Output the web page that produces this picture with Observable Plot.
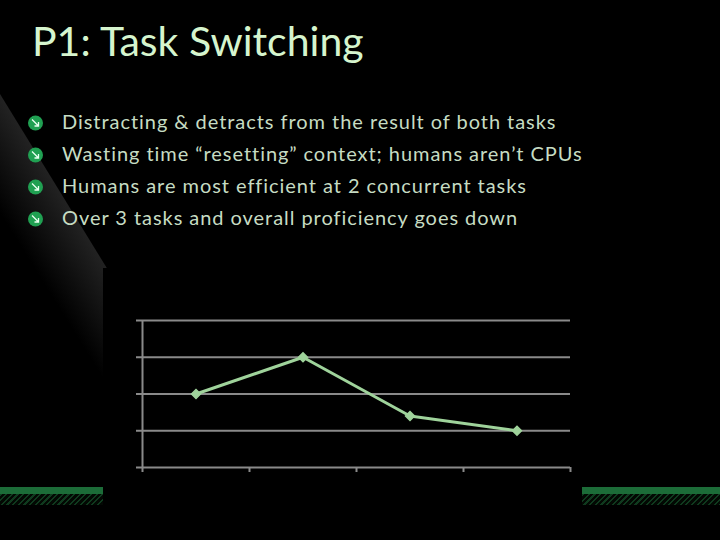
<!DOCTYPE html>
<html>
<head>
<meta charset="utf-8">
<script src="https://cdn.jsdelivr.net/npm/d3@7"></script>
<script src="https://cdn.jsdelivr.net/npm/@observablehq/plot@0.6"></script>
<style>
  html, body { margin: 0; padding: 0; background: #000; }
  #slide { position: relative; width: 720px; height: 540px; overflow: hidden; background: #000; font-family: Lato, "Open Sans", sans-serif; }
  #deco { position: absolute; left: 0; top: 0; }
  #title { position: absolute; left: 32px; top: 17px; font-size: 41px; line-height: 48px; color: #d6f5ce; white-space: nowrap; }
  .bullet { position: absolute; left: 62px; font-size: 20px; letter-spacing: 0.95px; line-height: 32px; color: #c6dcc3; white-space: nowrap; }
  #stripe { position: absolute; left: 0; top: 487px; width: 720px; height: 7px; background: #1c6c38; }
  #hatch { position: absolute; left: 0; top: 494px; width: 720px; height: 11px;
    background: repeating-linear-gradient(135deg, #0f3a1e 0px, #0f3a1e 1.5px, #030803 1.5px, #030803 4px); }
  #chart { position: absolute; left: 103px; top: 268px; }
</style>
</head>
<body>
<div id="slide"></div>
<script>
// ---- data ----
const titleText = "P1: Task Switching";
const bullets = [
  "Distracting & detracts from the result of both tasks",
  "Wasting time \u201cresetting\u201d context; humans aren\u2019t CPUs",
  "Humans are most efficient at 2 concurrent tasks",
  "Over 3 tasks and overall proficiency goes down"
];
const categories = ["1", "2", "3", "4"];
const values = [40, 60, 28, 20];
const yTicks = [0, 20, 40, 60, 80];
const xBoundaries = [0, 1, 2, 3, 4];

const slide = document.getElementById("slide");

// ---- decorative background (sheen, bullet icons) ----
const deco = d3.select(slide).append("svg").attr("id", "deco").attr("width", 720).attr("height", 540);
const defs = deco.append("defs");
const g = defs.append("linearGradient").attr("id", "sheen").attr("gradientUnits", "userSpaceOnUse")
  .attr("x1", 53).attr("y1", 180).attr("x2", 0).attr("y2", 213);
g.append("stop").attr("offset", 0).attr("stop-color", "#222222");
g.append("stop").attr("offset", 1).attr("stop-color", "#000");
deco.append("polygon").attr("points", "0,94 108,270 108,520 0,520").attr("fill", "url(#sheen)");

// stripe
d3.select(slide).append("div").attr("id", "stripe");
d3.select(slide).append("div").attr("id", "hatch");

const deco2 = d3.select(slide).append("svg").attr("width", 720).attr("height", 540)
  .style("position", "absolute").style("left", 0).style("top", 0);
bullets.forEach((b, i) => {
  const cy = 123 + 32 * i, cx = 35.5;
  deco2.append("circle").attr("cx", cx).attr("cy", cy).attr("r", 7.5).attr("fill", "#20a052");
  deco2.append("path")
    .attr("d", `M${cx - 3.5},${cy - 3.5} L${cx + 2.5},${cy + 2.5} M${cx + 3},${cy - 1} L${cx + 3},${cy + 3} L${cx - 1},${cy + 3}`)
    .attr("stroke", "#e8fff0").attr("stroke-width", 1.3).attr("fill", "none");
});

// ---- text ----
d3.select(slide).append("div").attr("id", "title").text(titleText);
bullets.forEach((b, i) => {
  d3.select(slide).append("div").attr("class", "bullet").style("top", (105 + 32 * i) + "px").text(b);
});

// ---- chart ----
const data = categories.map((c, i) => ({cat: c, idx: i + 0.5, value: values[i]}));
const grid = "#8a8a8a";
const chart = Plot.plot({
  width: 479,
  height: 237,
  marginLeft: 39,
  marginRight: 12,
  marginTop: 52,
  marginBottom: 38,
  style: {background: "#000", overflow: "visible"},
  x: {domain: [0, categories.length], axis: null},
  y: {domain: [0, 80], axis: null},
  marks: [
    Plot.ruleY(yTicks, {stroke: grid, strokeWidth: 2}),
    Plot.axisY({ticks: yTicks, tickSize: 6, tickFormat: () => "", stroke: grid, strokeWidth: 2}),
    Plot.ruleX([0], {stroke: grid, strokeWidth: 2}),
    Plot.axisX({ticks: xBoundaries, tickSize: 5, tickFormat: () => "", stroke: grid, strokeWidth: 2}),
    Plot.line(data, {x: "idx", y: "value", stroke: "#9fd39b", strokeWidth: 3}),
    Plot.dot(data, {x: "idx", y: "value", symbol: "diamond2", r: 4, fill: "#9fd39b", stroke: "#9fd39b"})
  ]
});
chart.id = "chart";
slide.appendChild(chart);
</script>
</body>
</html>
